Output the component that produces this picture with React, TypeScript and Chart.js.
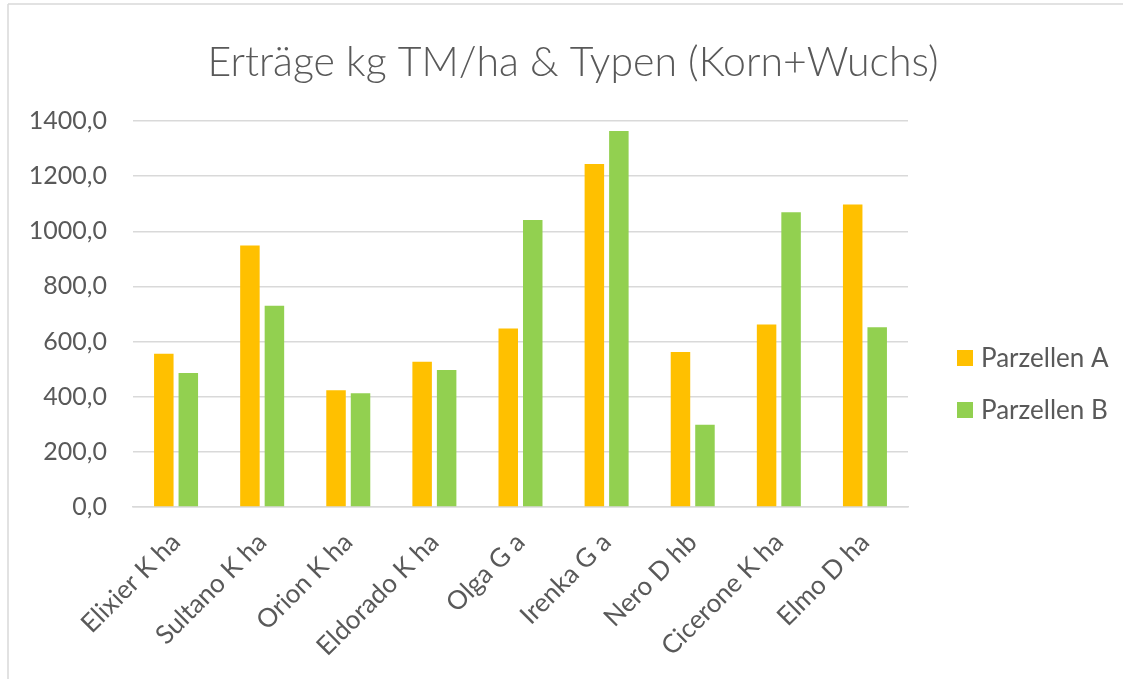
import React, { useEffect, useRef } from "react";
import { Chart, registerables } from "chart.js";

Chart.register(...registerables);

const chartTitle = "Erträge kg TM/ha & Typen (Korn+Wuchs)";
const categories = [
  "Elixier K ha",
  "Sultano K ha",
  "Orion K ha",
  "Eldorado K ha",
  "Olga G a",
  "Irenka G a",
  "Nero D hb",
  "Cicerone K ha",
  "Elmo D ha",
];
const seriesNames = ["Parzellen A", "Parzellen B"];
const valuesA = [556, 948, 423, 527, 647, 1244, 562, 662, 1097];
const valuesB = [486, 730, 413, 497, 1041, 1364, 298, 1069, 652];
const yMin = 0;
const yMax = 1400;
const yStep = 200;

const colors = ["#FFC000", "#92D050"];
const textColor = "#595959";
const gridColor = "#d9d9d9";
const FONT = "Lato, 'Open Sans', sans-serif";

const decorPlugin = {
  id: "decor",
  beforeDraw(chart: any) {
    const ctx = chart.ctx;
    ctx.save();
    ctx.fillStyle = "#ffffff";
    ctx.fillRect(0, 0, chart.width, chart.height);
    ctx.strokeStyle = gridColor;
    ctx.lineWidth = 1.5;
    ctx.beginPath();
    ctx.moveTo(8, 4);
    ctx.lineTo(chart.width, 4);
    ctx.moveTo(8, 4);
    ctx.lineTo(8, chart.height);
    ctx.stroke();
    ctx.restore();
  },
  afterDraw(chart: any) {
    const ctx = chart.ctx;
    ctx.save();
    // title
    ctx.fillStyle = textColor;
    ctx.font = `300 41px ${FONT}`;
    ctx.textAlign = "center";
    ctx.textBaseline = "alphabetic";
    ctx.fillText(chartTitle, 573, 76);
    // legend
    ctx.font = `26px ${FONT}`;
    ctx.textAlign = "left";
    ctx.textBaseline = "middle";
    const ys = [358, 410];
    chart.data.datasets.forEach((ds: any, i: number) => {
      ctx.fillStyle = ds.backgroundColor;
      ctx.fillRect(957, ys[i] - 8, 16, 16);
      ctx.fillStyle = textColor;
      ctx.fillText(ds.label, 981, ys[i] + 1);
    });
    ctx.restore();
  },
};

export default function App() {
  const ref = useRef<HTMLCanvasElement | null>(null);
  useEffect(() => {
    if (!ref.current) return;
    const chart = new Chart(ref.current, {
      type: "bar",
      data: {
        labels: categories,
        datasets: [
          { label: seriesNames[0], data: valuesA, backgroundColor: colors[0] },
          { label: seriesNames[1], data: valuesB, backgroundColor: colors[1] },
        ],
      },
      options: {
        animation: false,
        responsive: false,
        maintainAspectRatio: false,
        devicePixelRatio: 1,
        categoryPercentage: 0.569,
        barPercentage: 0.796,
        layout: { padding: { left: 0, top: 121, right: 215, bottom: 0 } },
        plugins: {
          legend: { display: false },
          title: { display: false },
          tooltip: { enabled: false },
        },
        scales: {
          x: {
            afterFit(scale: any) {
              scale.height = 172;
            },
            grid: { display: false, drawTicks: false },
            border: { display: true, color: gridColor, width: 1.5 },
            ticks: {
              color: textColor,
              font: { family: FONT, size: 26 },
              maxRotation: 45,
              minRotation: 45,
              autoSkip: false,
              padding: 20,
            },
          },
          y: {
            min: yMin,
            max: yMax,
            afterFit(scale: any) {
              scale.width = 133;
            },
            grid: { color: gridColor, lineWidth: 1.5, drawTicks: false },
            border: { display: false },
            ticks: {
              stepSize: yStep,
              color: textColor,
              font: { family: FONT, size: 25 },
              padding: 26,
              callback: (v: any) => Number(v).toFixed(1).replace(".", ","),
            },
          },
        },
      },
      plugins: [decorPlugin],
    });
    return () => chart.destroy();
  }, []);
  return (
    <div style={{ position: "fixed", left: 0, top: 0, width: 1123, height: 679 }}>
      <canvas ref={ref} width={1123} height={679} style={{ width: 1123, height: 679 }} />
    </div>
  );
}
